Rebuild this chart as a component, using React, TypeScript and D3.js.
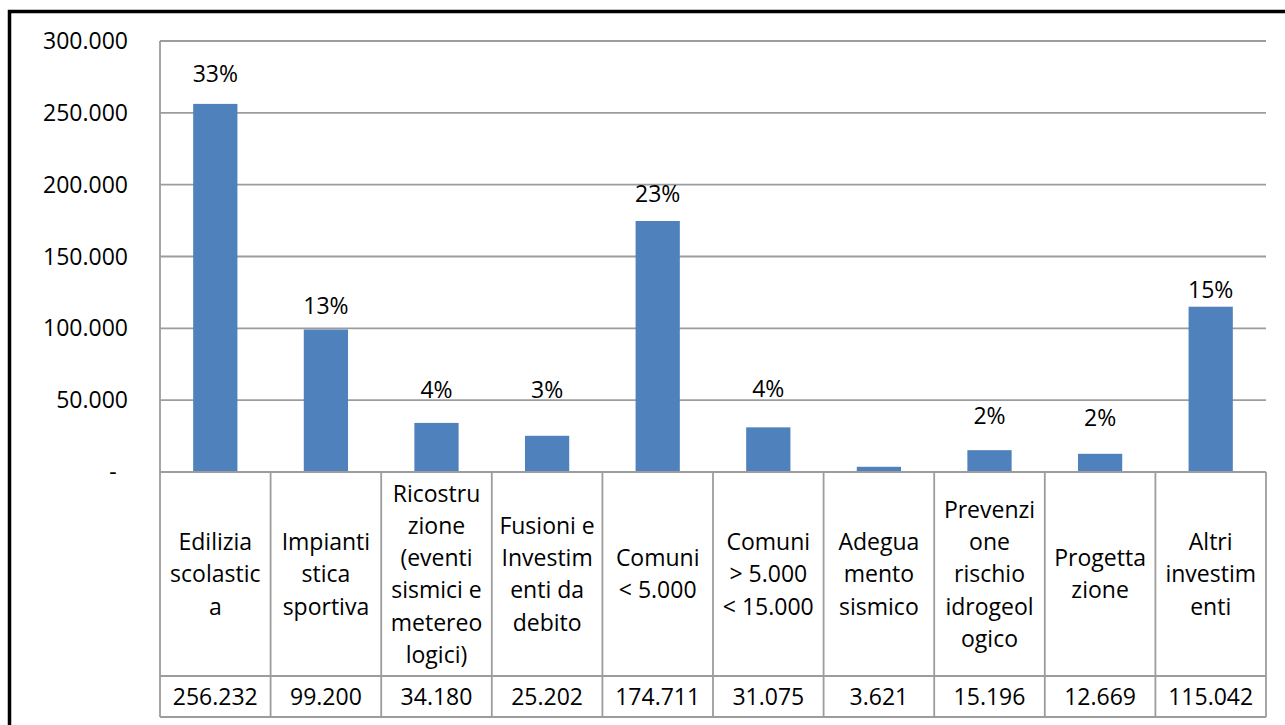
import React from 'react';
import * as d3 from 'd3';

// category labels, already wrapped the way the table cells show them
const categories: string[][] = [
  ['Edilizia', 'scolastic', 'a'],
  ['Impianti', 'stica', 'sportiva'],
  ['Ricostru', 'zione', '(eventi', 'sismici e', 'metereo', 'logici)'],
  ['Fusioni e', 'Investim', 'enti da', 'debito'],
  ['Comuni', '< 5.000'],
  ['Comuni', '> 5.000', '< 15.000'],
  ['Adegua', 'mento', 'sismico'],
  ['Prevenzi', 'one', 'rischio', 'idrogeol', 'ogico'],
  ['Progetta', 'zione'],
  ['Altri', 'investim', 'enti'],
];

const values = [256232, 99200, 34180, 25202, 174711, 31075, 3621, 15196, 12669, 115042];

// where each % label sits (in data units, as placed in the original); null = no label
const labelAt: (number | null)[] = [271700, 109800, 51700, 51700, 187700, 52200, null, 33400, 32000, 120900];

const yTicks = [0, 50000, 100000, 150000, 200000, 250000, 300000];

const itLocale = d3.formatLocale({ decimal: ',', thousands: '.', grouping: [3], currency: ['€', ''] });
const fmtNum = itLocale.format(',d');
const fmtPct = d3.format('.0%');

const W = 1285;
const H = 725;
const margin = { left: 160, right: 19, top: 41 };
const zeroY = 472;
const labelRowBottom = 676;
const valueRowBottom = 717;
const font = '"Open Sans", sans-serif';
const fontSize = 23;
const lineGap = 32.2;
const gridColor = '#9c9c9c';

const App: React.FC = () => {
  const total = d3.sum(values);

  const x = d3.scaleBand<number>()
    .domain(d3.range(values.length))
    .range([margin.left, W - margin.right])
    .paddingInner(0.6)
    .paddingOuter(0.3);

  const y = d3.scaleLinear()
    .domain([0, 300000])
    .range([zeroY, margin.top]);

  const step = x.step();
  const colLeft = (i: number) => margin.left + i * step;
  const colCenter = (i: number) => colLeft(i) + step / 2;
  const labelRowMid = (zeroY + labelRowBottom) / 2;
  const valueRowMid = (labelRowBottom + valueRowBottom) / 2;

  return (
    <svg width={W} height={H} style={{ position: 'absolute', left: 0, top: 0, display: 'block', background: '#fff' }}
      fontFamily={font} fontSize={fontSize}>
      {/* outer chart border (continues past the photo edge) */}
      <path d={`M9.5,${H + 20} V11.5 H${W + 20}`} fill="none" stroke="#000" strokeWidth={3.5} />

      {/* gridlines */}
      {yTicks.filter(t => t > 0).map(t => (
        <line key={t} x1={margin.left} x2={W - margin.right} y1={y(t)} y2={y(t)} stroke={gridColor} strokeWidth={1.8} />
      ))}

      {/* y tick labels */}
      {yTicks.map(t => (
        t === 0
          ? <text key={t} x={113} y={y(t) + 8} textAnchor="middle" fill="#000">-</text>
          : <text key={t} x={128} y={y(t) + 8} textAnchor="end" fill="#000">{fmtNum(t)}</text>
      ))}

      {/* bars */}
      {values.map((v, i) => (
        <rect key={i} x={x(i)} y={y(v)} width={x.bandwidth()} height={y(0) - y(v)} fill="#4f81bd" />
      ))}

      {/* percent labels */}
      {values.map((v, i) => {
        const at = labelAt[i];
        if (at === null) return null;
        return (
          <text key={i} x={colCenter(i)} y={y(at)} textAnchor="middle" fill="#000">{fmtPct(v / total)}</text>
        );
      })}

      {/* data table grid */}
      <g stroke={gridColor} strokeWidth={1.8} fill="none">
        <line x1={margin.left} x2={margin.left} y1={margin.top} y2={valueRowBottom} />
        <line x1={margin.left} x2={W - margin.right} y1={zeroY} y2={zeroY} />
        <line x1={margin.left} x2={W - margin.right} y1={labelRowBottom} y2={labelRowBottom} />
        <line x1={margin.left} x2={W - margin.right} y1={valueRowBottom} y2={valueRowBottom} />
        {d3.range(1, values.length + 1).map(i => (
          <line key={i} x1={colLeft(i)} x2={colLeft(i)} y1={zeroY} y2={valueRowBottom} />
        ))}
      </g>

      {/* category labels */}
      {categories.map((lines, i) => (
        <text key={i} textAnchor="middle" fill="#000">
          {lines.map((ln, j) => (
            <tspan key={j} x={colCenter(i)} y={labelRowMid + 8.3 + (j - (lines.length - 1) / 2) * lineGap}>{ln}</tspan>
          ))}
        </text>
      ))}

      {/* values row */}
      {values.map((v, i) => (
        <text key={i} x={colCenter(i)} y={valueRowMid + 8.3} textAnchor="middle" fill="#000">{fmtNum(v)}</text>
      ))}
    </svg>
  );
};

export default App;
